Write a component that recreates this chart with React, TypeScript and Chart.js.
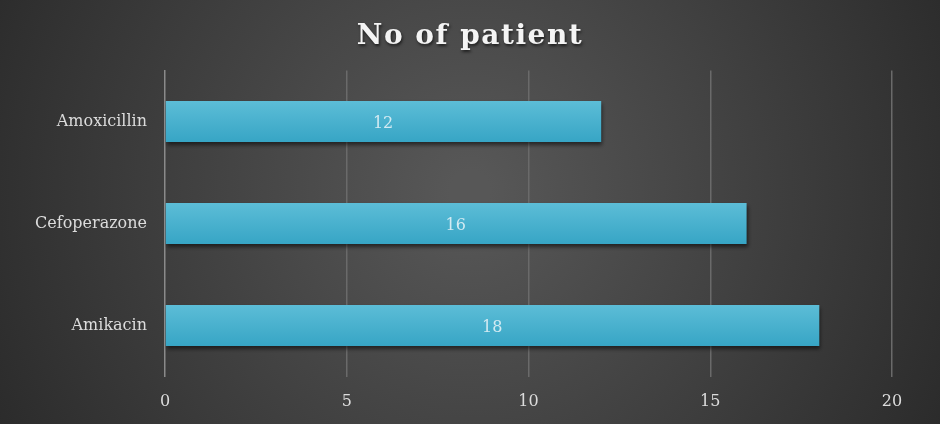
import React, { useEffect, useRef } from "react";
import { Chart, registerables } from "chart.js";

Chart.register(...registerables);

const categories = ["Amoxicillin", "Cefoperazone", "Amikacin"];
const patients = [12, 16, 18];
const xTicks = [0, 5, 10, 15, 20];
const title = "No of patient";

const FONT = "'DejaVu Serif', serif";

const bgPlugin = {
  id: "bg",
  beforeDraw(chart: any) {
    const { ctx, width, height } = chart;
    ctx.save();
    const g = ctx.createRadialGradient(width * 0.5, height * 0.45, 20, width * 0.5, height * 0.45, width * 0.6);
    g.addColorStop(0, "#575757");
    g.addColorStop(1, "#282828");
    ctx.fillStyle = g;
    ctx.fillRect(0, 0, width, height);
    ctx.restore();
  },
  afterDraw(chart: any) {
    const { ctx, width } = chart;
    ctx.save();
    ctx.font = `bold 28px ${FONT}`;
    (ctx as any).letterSpacing = "1.5px";
    ctx.textAlign = "center";
    ctx.textBaseline = "middle";
    ctx.shadowColor = "rgba(0,0,0,0.6)";
    ctx.shadowOffsetX = 1;
    ctx.shadowOffsetY = 2;
    ctx.shadowBlur = 3;
    ctx.fillStyle = "#f4f4f4";
    ctx.fillText(title, width / 2, 37);
    ctx.restore();
  },
};

const shadowPlugin = {
  id: "shadow",
  beforeDatasetsDraw(chart: any) {
    chart.ctx.save();
    chart.ctx.shadowColor = "rgba(0,0,0,0.55)";
    chart.ctx.shadowOffsetY = 3;
    chart.ctx.shadowOffsetX = 1;
    chart.ctx.shadowBlur = 4;
  },
  afterDatasetsDraw(chart: any) {
    chart.ctx.restore();
  },
};

const labelPlugin = {
  id: "barLabels",
  afterDatasetsDraw(chart: any) {
    const { ctx } = chart;
    const meta = chart.getDatasetMeta(0);
    ctx.save();
    ctx.shadowColor = "rgba(0,0,0,0)";
    ctx.font = `16px ${FONT}`;
    ctx.fillStyle = "#d2eaf2";
    ctx.textAlign = "center";
    ctx.textBaseline = "middle";
    meta.data.forEach((el: any, i: number) => {
      const x0 = chart.scales.x.getPixelForValue(0);
      ctx.fillText(String(patients[i]), (x0 + el.x) / 2, el.y + 2);
    });
    ctx.restore();
  },
};

export default function App() {
  const ref = useRef<HTMLCanvasElement>(null);
  useEffect(() => {
    document.body.style.margin = "0";
    const canvas = ref.current!;
    const chart = new Chart(canvas, {
      type: "bar",
      data: {
        labels: categories,
        datasets: [
          {
            data: patients,
            backgroundColor: (c: any) => {
              const chartRef = c.chart;
              const ys = chartRef.scales && chartRef.scales.y;
              if (!chartRef.chartArea || !ys) return "#4ab3d0";
              const y = ys.getPixelForValue(c.dataIndex);
              if (!isFinite(y)) return "#4ab3d0";
              const h = 41;
              const g = chartRef.ctx.createLinearGradient(0, y - h / 2, 0, y + h / 2);
              g.addColorStop(0, "#5cbdd7");
              g.addColorStop(1, "#37a5c5");
              return g;
            },
            borderWidth: 0,
            barPercentage: 0.8,
            categoryPercentage: 0.5,
          },
        ],
      },
      options: {
        indexAxis: "y",
        responsive: false,
        animation: false,
        devicePixelRatio: 1,
        layout: { padding: { top: 70.5, right: 48, left: 0, bottom: 0 } },
        plugins: {
          legend: { display: false },
          tooltip: { enabled: false },
          title: { display: false },
        },
        scales: {
          x: {
            min: 0,
            max: 20,
            afterBuildTicks: (s: any) => {
              s.ticks = xTicks.map((v) => ({ value: v }));
            },
            afterFit: (s: any) => {
              s.height = 47.5;
            },
            grid: {
              color: (c: any) => (c.tick && c.tick.value === 0 ? "rgba(0,0,0,0)" : "#6a6a6a"),
              lineWidth: 1.5,
              drawTicks: false,
            },
            border: { display: false },
            ticks: {
              color: "#dcdcdc",
              font: { family: FONT, size: 16 },
              padding: 16,
            },
          },
          y: {
            afterFit: (s: any) => {
              s.width = 165;
            },
            grid: { display: false, drawTicks: false },
            border: { display: true, color: "#8a8a8a", width: 1.5 },
            ticks: {
              color: "#dcdcdc",
              font: { family: FONT, size: 16 },
              padding: 18,
            },
          },
        },
      },
      plugins: [bgPlugin, shadowPlugin, labelPlugin],
    } as any);
    return () => chart.destroy();
  }, []);
  return <canvas ref={ref} width={940} height={424} style={{ display: "block" }} />;
}
